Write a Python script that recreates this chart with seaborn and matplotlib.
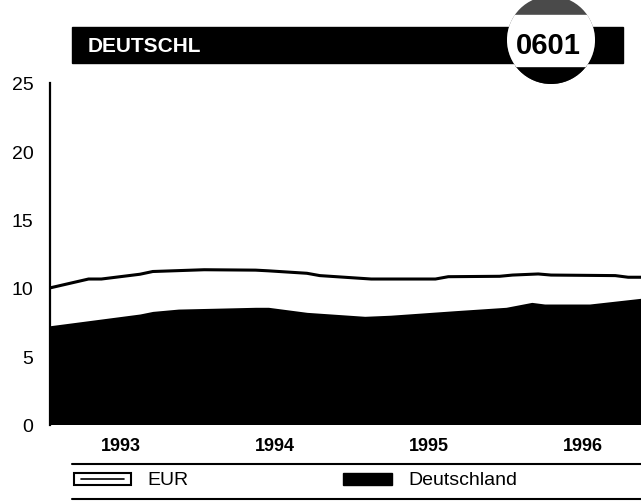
import numpy as np
import pandas as pd
import seaborn as sns
import matplotlib.pyplot as plt
from matplotlib.patches import Rectangle, Circle

# months counted from January 1993 (0 = Jan 1993)
eur_month = [0, 3, 4, 7, 8, 12, 16, 17, 20, 21, 25, 30, 31, 35, 36, 38, 39, 44, 45, 46]
eur_rate = [10.0, 10.65, 10.65, 11.0, 11.2, 11.33, 11.3, 11.25, 11.07, 10.9,
            10.65, 10.65, 10.82, 10.85, 10.94, 11.02, 10.94, 10.9, 10.78, 10.78]

de_month = [0, 7, 8, 10, 16, 17, 20, 24.5, 26.5, 31.5, 35.5, 37.5, 38.5, 42, 46]
de_rate = [7.23, 8.09, 8.28, 8.45, 8.58, 8.58, 8.21, 7.92, 8.0, 8.33,
           8.58, 8.94, 8.82, 8.82, 9.24]

years = [1993, 1994, 1995, 1996]
yticks = [0, 5, 10, 15, 20, 25]


def to_year(m):
    return 1993 + (np.asarray(m, dtype=float) + 0.5) / 12


eur = pd.DataFrame({'t': to_year(eur_month), 'rate': eur_rate})
de = pd.DataFrame({'t': to_year(de_month), 'rate': de_rate})

sns.set_style('white')
plt.rcParams['font.family'] = ['Liberation Sans', 'DejaVu Sans']
plt.rcParams['text.color'] = 'black'

fig = plt.figure(figsize=(6.41, 5.02), dpi=100)
ax = fig.add_axes([50 / 641, 76.5 / 502, 591 / 641, 341.5 / 502])

# EUR as white area with a black outline, Deutschland as solid black area
ax.fill_between(eur.t, eur.rate, color='white', lw=0, zorder=1)
ax.fill_between(de.t, de.rate, color='black', lw=0, zorder=2)
sns.lineplot(data=eur, x='t', y='rate', color='black', lw=2.2, ax=ax, zorder=3)

ax.set_xlim(to_year(0), to_year(46))
ax.set_ylim(0, 25)
ax.set_xlabel('')
ax.set_ylabel('')

ax.set_yticks(yticks)
ax.set_yticklabels([str(v) for v in yticks], fontsize=14, color='black')
ax.tick_params(axis='y', direction='in', length=4, width=1.5, pad=12, color='black')

ax.set_xticks([y + 0.5 for y in years])
ax.set_xticklabels([str(y) for y in years], fontsize=13, fontweight='bold', color='black')
ax.tick_params(axis='x', length=0, pad=9)

sns.despine(ax=ax, top=True, right=True, bottom=True)
ax.spines['left'].set_linewidth(1.6)
ax.spines['left'].set_color('black')

# decoration layer in pixel coordinates
deco = fig.add_axes([0, 0, 1, 1])
deco.set_xlim(0, 641)
deco.set_ylim(502, 0)
deco.axis('off')

deco.add_patch(Rectangle((72, 28), 551, 36, color='black'))
deco.text(88, 46, 'DEUTSCHL', color='white', fontsize=15, fontweight='bold', va='center')

badge = Circle((551, 41), 44, facecolor='#4a4a4a', edgecolor='none')
deco.add_patch(badge)
bottom_cap = Rectangle((500, 67), 110, 30, color='black')
deco.add_patch(bottom_cap)
bottom_cap.set_clip_path(badge)
band = Rectangle((500, 16), 110, 51, color='white')
deco.add_patch(band)
band.set_clip_path(badge)
deco.text(548, 46, '0601', fontsize=21, fontweight='bold', ha='center', va='center')

deco.plot([72, 641], [465, 465], color='black', lw=1.5)
deco.plot([72, 641], [500, 500], color='black', lw=1.5)

deco.add_patch(Rectangle((74, 474), 57, 12, facecolor='white', edgecolor='black', lw=1.5))
deco.plot([81, 124], [480, 480], color='black', lw=1.2)
deco.text(147, 481, 'EUR', fontsize=14, va='center')
deco.add_patch(Rectangle((343, 474), 49, 12, color='black'))
deco.text(408, 481, 'Deutschland', fontsize=14, va='center')

fig.savefig('out.png', dpi=100)
